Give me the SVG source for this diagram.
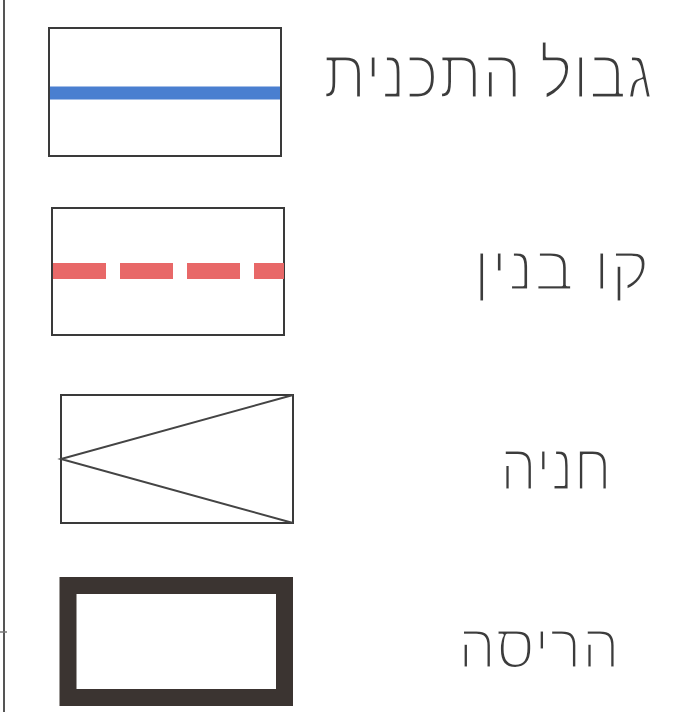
<svg xmlns="http://www.w3.org/2000/svg" width="681" height="712" viewBox="0 0 681 712">
<style>
.frame{fill:none;stroke:#3a3a3a;stroke-width:2}
.lbl{font-family:"Liberation Sans","DejaVu Sans",sans-serif;fill:#3c3c3c;stroke:#ffffff;stroke-width:3.2;stroke-linejoin:round;text-anchor:start}
</style>
<rect width="681" height="712" fill="#ffffff"/>
<g id="border">
<line x1="4" y1="0" x2="4" y2="712" stroke="#555" stroke-width="2"/>
<line x1="0" y1="632" x2="7" y2="632" stroke="#777" stroke-width="1.5"/>
</g>
<g id="plan-boundary">
<rect class="frame" x="49" y="28" width="232" height="128"/>
<line x1="50" y1="93" x2="280" y2="93" stroke="#4a7fd0" stroke-width="13"/>
<text class="lbl" x="323" y="98" font-size="70" textLength="330" lengthAdjust="spacingAndGlyphs">גבול התכנית</text>
</g>
<g id="building-line">
<rect class="frame" x="52" y="208" width="232" height="127"/>
<line x1="53" y1="271" x2="284" y2="271" stroke="#e86868" stroke-width="16" stroke-dasharray="53 14"/>
<text class="lbl" x="473" y="290" font-size="64" textLength="177" lengthAdjust="spacingAndGlyphs">קו בנין</text>
</g>
<g id="parking">
<rect class="frame" x="61" y="395" width="232" height="128"/>
<polyline points="293,395 61,459 293,523" fill="none" stroke="#444" stroke-width="2"/>
<text class="lbl" x="500" y="490" font-size="66" textLength="112" lengthAdjust="spacingAndGlyphs">חניה</text>
</g>
<g id="demolition">
<rect x="68" y="585.5" width="216.5" height="112" fill="none" stroke="#3b3431" stroke-width="17"/>
<text class="lbl" x="458" y="668" font-size="64" textLength="162" lengthAdjust="spacingAndGlyphs">הריסה</text>
</g>
</svg>
